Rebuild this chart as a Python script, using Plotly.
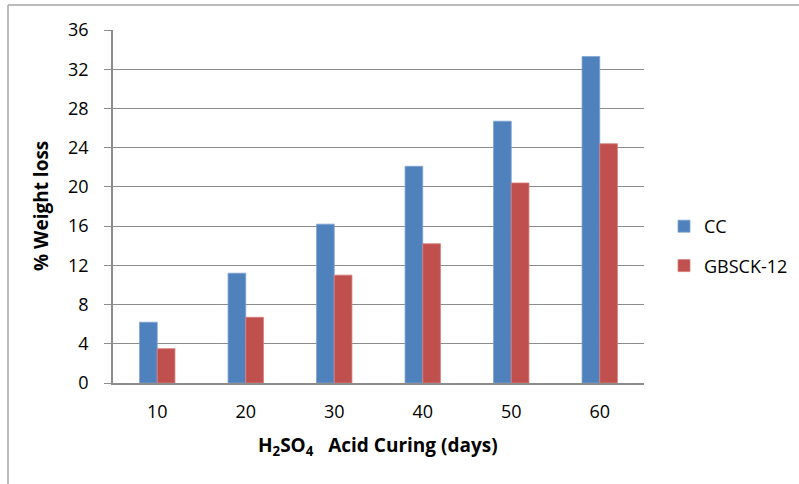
import plotly.graph_objects as go

categories = ["10", "20", "30", "40", "50", "60"]
cc_values = [6.2, 11.2, 16.2, 22.1, 26.7, 33.3]
gbsck_values = [3.5, 6.7, 11.0, 14.2, 20.4, 24.4]
y_ticks = [0, 4, 8, 12, 16, 20, 24, 28, 32, 36]

W, H = 799, 484
L, R, T, B = 113, 644, 30, 383
pw, ph = R - L, B - T

FONT = "Open Sans"

fig = go.Figure()
fig.add_trace(go.Bar(x=categories, y=cc_values, name="CC", legendgroup="cc",
                     marker=dict(color="#4F81BD", line=dict(color="#7FA3D0", width=0.8))))
fig.add_trace(go.Bar(x=categories, y=gbsck_values, name="GBSCK-12", legendgroup="gb",
                     marker=dict(color="#C0504D", line=dict(color="#D57D7A", width=0.8))))

def px_x(x):
    return (x - L) / pw

def px_y(y):
    return (B - y) / ph

frame = dict(color="#a6a6a6", width=1.5)

fig.update_layout(
    width=W, height=H,
    margin=dict(l=L, r=W - R, t=T, b=H - B, autoexpand=False),
    paper_bgcolor="white", plot_bgcolor="white",
    barmode="group", bargap=0.6, bargroupgap=0.0,
    font=dict(family=FONT, size=18, color="#000000"),
    showlegend=True,
    legend=dict(x=px_x(664), y=px_y(246), xanchor="left", yanchor="middle",
                font=dict(family=FONT, size=18), tracegroupgap=13,
                itemwidth=30, bgcolor="rgba(0,0,0,0)"),
    xaxis=dict(type="category", showgrid=False, showline=True, linecolor="#8c8c8c",
               linewidth=1.5, ticks="", tickfont=dict(size=18), ticklabelstandoff=12),
    yaxis=dict(range=[0, 36], tickvals=y_ticks, showgrid=True, gridcolor="#8c8c8c",
               gridwidth=1.3, showline=True, linecolor="#8c8c8c", linewidth=1.5,
               ticks="outside", ticklen=7, tickcolor="#8c8c8c", tickwidth=1.3,
               tickfont=dict(size=18), ticklabelstandoff=12, zeroline=False),
    shapes=[
        dict(type="line", xref="paper", yref="paper",
             x0=px_x(8), y0=px_y(5), x1=px_x(800), y1=px_y(5), line=frame),
        dict(type="line", xref="paper", yref="paper",
             x0=px_x(8), y0=px_y(5), x1=px_x(8), y1=px_y(485), line=frame),
    ],
    annotations=[
        dict(text="<b>% Weight loss</b>", xref="paper", yref="paper",
             x=px_x(41), y=px_y(206), textangle=-90, showarrow=False,
             xanchor="center", yanchor="middle", font=dict(family=FONT, size=19)),
        dict(text="<b>H<sub>2</sub>SO<sub>4</sub>   Acid Curing (days)</b>", xref="paper", yref="paper",
             x=px_x(378), y=px_y(446), showarrow=False,
             xanchor="center", yanchor="middle", font=dict(family=FONT, size=19)),
    ],
)

fig.write_html("out.html", config={"displayModeBar": False},
               post_script="document.body.style.margin='0';")
